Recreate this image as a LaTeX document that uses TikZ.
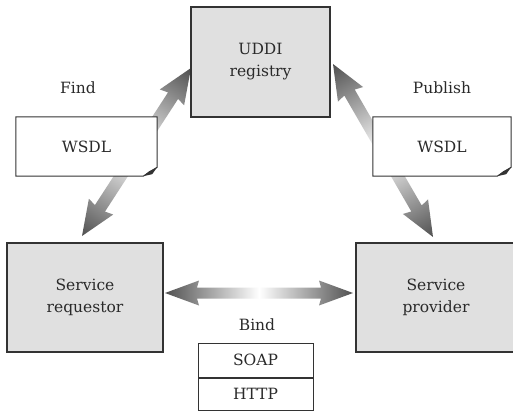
\documentclass[tikz,border=0pt]{standalone}
\usepackage{fontspec}
\setmainfont{DejaVu Serif}
\usetikzlibrary{calc}
\definecolor{boxgray}{HTML}{E0E0E0}
\definecolor{edgecol}{HTML}{333333}
\definecolor{ink}{HTML}{2A2A2A}
\definecolor{arrdark}{HTML}{505050}

% shaded double arrow from coordinate #1 to coordinate #2, shaft half width #3, head half width #4, head length #5
\newcommand\dblarrow[5]{%
  \pgfpointdiff{\pgfpointanchor{#1}{center}}{\pgfpointanchor{#2}{center}}%
  \pgfgetlastxy\arrdx\arrdy
  \pgfmathsetmacro\arrang{atan2(\arrdy,\arrdx)}%
  \pgfmathsetmacro\arrlen{veclen(\arrdx,\arrdy)}%
  \pgfmathsetmacro\arrhb{#5-2}%
  \shade[transform canvas={shift={(#1)},rotate=\arrang},
         left color=arrdark, right color=arrdark, middle color=white]
    (0pt,0pt) -- (#5pt,#4pt) -- (\arrhb pt,#3pt)
    -- ({\arrlen pt-\arrhb pt},#3pt) -- ({\arrlen pt-#5pt},#4pt)
    -- (\arrlen pt,0pt)
    -- ({\arrlen pt-#5pt},-#4pt) -- ({\arrlen pt-\arrhb pt},-#3pt)
    -- (\arrhb pt,-#3pt) -- (#5pt,-#4pt) -- cycle;
}

\begin{document}
\begin{tikzpicture}[x=1pt,y=-1pt,
  every node/.style={text=ink, font=\fontsize{15.5}{22}\selectfont},
  graybox/.style={draw=edgecol, line width=1.1pt, fill=boxgray, inner sep=0pt, align=center},
  docnode/.style={fill=white, inner sep=0pt, minimum width=141pt, minimum height=59pt},
  docline/.style={draw=edgecol, line width=1pt},
  stackbox/.style={draw=edgecol, line width=1pt, fill=white, inner sep=0pt, minimum width=115pt},
  lbl/.style={inner sep=0pt}]
\useasboundingbox (0,0) rectangle (513,412);
\clip (0,0) rectangle (513,412);
\fill[white] (0,0) rectangle (513,412);

% arrow end points
\coordinate (fa) at (82,236);
\coordinate (fb) at (191,68);
\coordinate (pa) at (333,64);
\coordinate (pb) at (433,237);
\coordinate (ba) at (165,293);
\coordinate (bb) at (353,293);

\dblarrow{fa}{fb}{6}{14.5}{35}
\dblarrow{pa}{pb}{6}{14.5}{35}
\dblarrow{ba}{bb}{5.5}{12.5}{34}

% main boxes
\node[graybox, minimum width=139pt, minimum height=110pt] (uddi) at (260.5,62) {UDDI\\registry};
\node[graybox, minimum width=156pt, minimum height=109pt] (req) at (85,297.5) {Service\\requestor};
\node[graybox, minimum width=160pt, minimum height=109pt] (prov) at (436,297.5) {Service\\provider};

% WSDL documents
\node[docnode] (wl) at (86.5,146.5) {WSDL};
\node[docnode, minimum width=138pt] (wr) at (442,146.5) {WSDL};
\foreach \d in {wl,wr}{
  \draw[docline] (\d.north west) -- (\d.north east) -- ($(\d.south east)+(0pt,9pt)$)
    -- ($(\d.south east)+(-14pt,0pt)$) -- (\d.south west) -- cycle;
  \fill[edgecol] ($(\d.south east)+(0pt,9pt)$) -- ($(\d.south east)+(-8pt,5pt)$)
    -- ($(\d.south east)+(-14pt,0pt)$) -- ($(\d.south east)+(-5pt,2pt)$) -- cycle;
}

% labels
\node[lbl] (find) at (78,88) {Find};
\node[lbl] (pub) at (442,88) {Publish};
\node[lbl] (bind) at (257,325) {Bind};

% SOAP / HTTP stack
\node[stackbox, minimum height=34pt] (soap) at (255.5,360) {SOAP};
\node[stackbox, minimum height=32pt, anchor=north] (http) at (soap.south) {HTTP};
\end{tikzpicture}
\end{document}
